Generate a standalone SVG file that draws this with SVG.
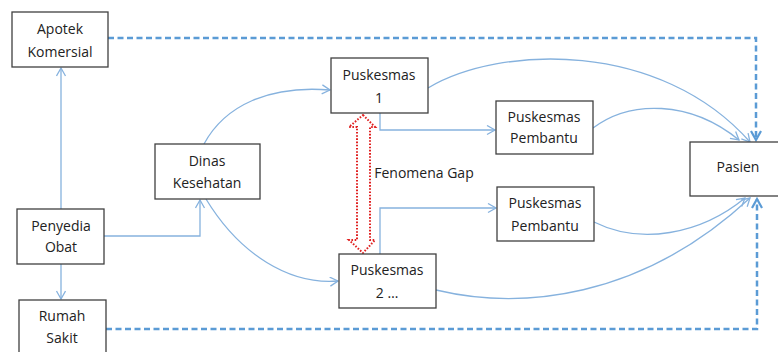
<svg xmlns="http://www.w3.org/2000/svg" width="778" height="352" viewBox="0 0 778 352">
<style>
.box{fill:#fff;stroke:#404040;stroke-width:1.3}
.t{font-family:"Open Sans","Liberation Sans",sans-serif;font-size:14px;fill:#222;text-anchor:middle}
.c{fill:none;stroke:#86b2de;stroke-width:1.3}
.d{fill:none;stroke:#5b9bd5;stroke-width:2.5;stroke-dasharray:6 3.5}
</style>
<defs>
<marker id="a" markerUnits="userSpaceOnUse" markerWidth="12" markerHeight="12" refX="9" refY="5" orient="auto">
<path d="M1,0.5 L9,5 L1,9.5" fill="none" stroke="#86b2de" stroke-width="1.3"/>
</marker>
<marker id="ad" markerUnits="userSpaceOnUse" markerWidth="14" markerHeight="14" refX="10" refY="6" orient="auto">
<path d="M1,1 L10,6 L1,11" fill="none" stroke="#5b9bd5" stroke-width="2.2"/>
</marker>
</defs>
<rect width="778" height="352" fill="#fff"/>
<g id="connectors">
<path class="c" d="M61,209 L61,68" marker-end="url(#a)"/>
<path class="c" d="M61,264 L61,299" marker-end="url(#a)"/>
<path class="c" d="M104,236 L200,236 L200,200" marker-end="url(#a)"/>
<path class="c" d="M204,144 C225,105 270,85 330,90" marker-end="url(#a)"/>
<path class="c" d="M206,199 C240,255 290,285 338,281" marker-end="url(#a)"/>
<path class="c" d="M380,113 L380,130 L495,130" marker-end="url(#a)"/>
<path class="c" d="M380,254 L380,208 L496,208" marker-end="url(#a)"/>
<path class="c" d="M428,88 C500,45 660,40 750,142" marker-end="url(#a)"/>
<path class="c" d="M593,128 C630,100 690,100 739,140" marker-end="url(#a)"/>
<path class="c" d="M594,222 C640,245 700,235 745,198" marker-end="url(#a)"/>
<path class="c" d="M436,290 C520,310 640,300 750,198" marker-end="url(#a)"/>
<path class="d" d="M108,38 L756,38 L756,140" marker-end="url(#ad)"/>
<path class="d" d="M106,329 L757,329 L757,199" marker-end="url(#ad)"/>
<path d="M363,115 L375,127 L370,127 L370,240 L375,240 L363,253 L349,240 L357,240 L357,127 L349,127 Z" fill="none" stroke="#e02020" stroke-width="2" stroke-dasharray="1.6 1.6"/>
</g>
<g id="apotek"><rect class="box" x="12" y="12" width="96" height="55"/><text class="t" x="60" y="34">Apotek</text><text class="t" x="60" y="57">Komersial</text></g>
<g id="penyedia"><rect class="box" x="17" y="209" width="87" height="55"/><text class="t" x="61" y="231">Penyedia</text><text class="t" x="61" y="252">Obat</text></g>
<g id="rumahsakit"><rect class="box" x="19" y="300" width="87" height="60"/><text class="t" x="62" y="321">Rumah</text><text class="t" x="62" y="343">Sakit</text></g>
<g id="dinas"><rect class="box" x="155" y="144" width="105" height="55"/><text class="t" x="207" y="166">Dinas</text><text class="t" x="207" y="188">Kesehatan</text></g>
<g id="puskesmas1"><rect class="box" x="331" y="58" width="97" height="55"/><text class="t" x="379" y="80">Puskesmas</text><text class="t" x="379" y="103">1</text></g>
<g id="pembantu1"><rect class="box" x="496" y="101" width="97" height="53"/><text class="t" x="544" y="122">Puskesmas</text><text class="t" x="544" y="143">Pembantu</text></g>
<g id="pembantu2"><rect class="box" x="497" y="187" width="97" height="54"/><text class="t" x="545" y="208">Puskesmas</text><text class="t" x="545" y="231">Pembantu</text></g>
<g id="puskesmas2"><rect class="box" x="339" y="254" width="97" height="54"/><text class="t" x="387" y="275">Puskesmas</text><text class="t" x="387" y="298">2 …</text></g>
<g id="pasien"><rect class="box" x="690" y="142" width="100" height="54"/><text class="t" x="738" y="172">Pasien</text></g>
<g id="gap"><text class="t" x="424" y="178">Fenomena Gap</text></g>
</svg>
